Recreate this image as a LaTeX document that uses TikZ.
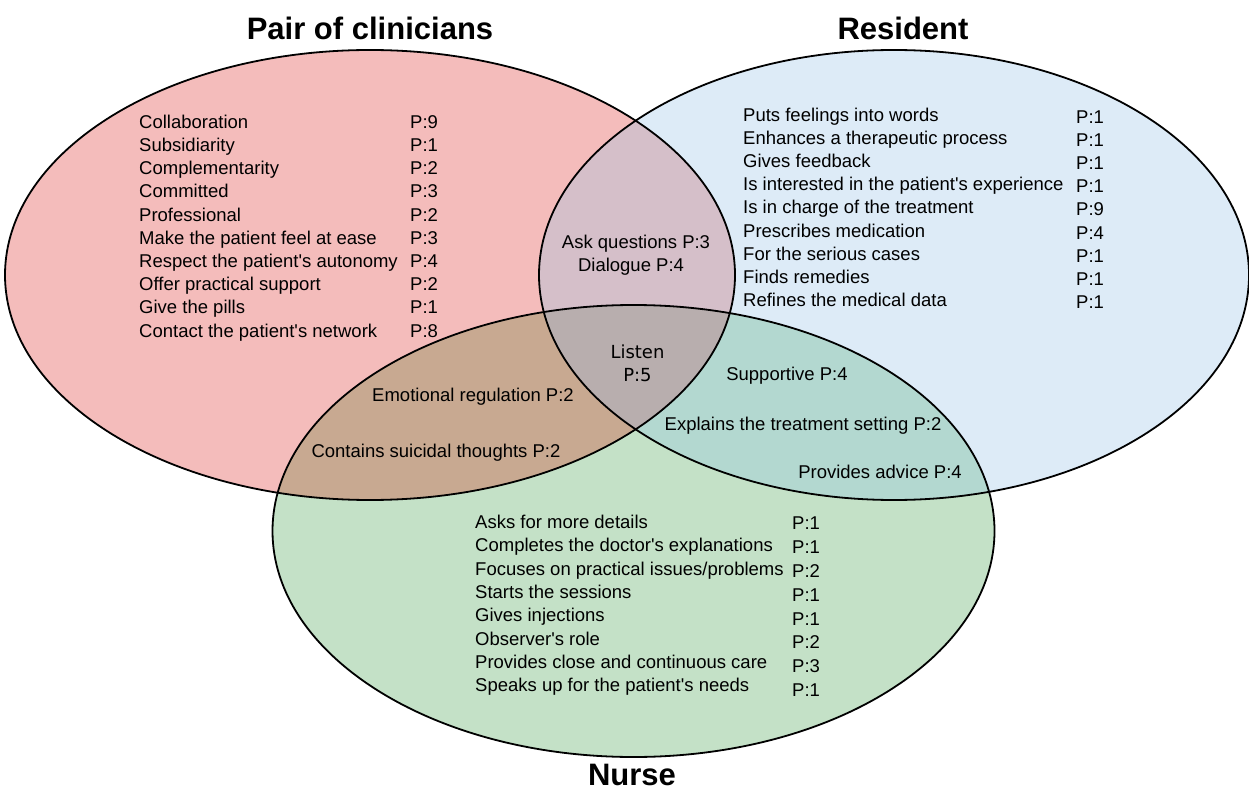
\documentclass[tikz,border=0pt]{standalone}
\usepackage{fontspec}
\setmainfont{Liberation Sans}[Ligatures=TeXOff]
\newfontfamily\dejavu{DejaVu Sans}
\definecolor{redF}{HTML}{F4BCBB}
\definecolor{blueF}{HTML}{DDEBF7}
\definecolor{greenF}{HTML}{C4E1C7}
\definecolor{rbF}{HTML}{D5BFC9}
\definecolor{rgF}{HTML}{C8A991}
\definecolor{bgF}{HTML}{B3D8D0}
\definecolor{allF}{HTML}{B8AEAE}
\def\redE{(370,275) ellipse [x radius=365pt, y radius=225pt]}
\def\blueE{(894,275) ellipse [x radius=355pt, y radius=225pt]}
\def\greenE{(633.5,531) ellipse [x radius=361pt, y radius=226pt]}
\tikzset{
  item/.style={anchor=base west, inner sep=0pt, font=\fontsize{18.5}{20}\selectfont},
  mid/.style={anchor=base, inner sep=0pt, font=\fontsize{18.5}{20}\selectfont},
  lst/.style={anchor=base, inner sep=0pt, font=\dejavu\fontsize{18}{20}\selectfont},
  title/.style={anchor=center, inner sep=0pt, font=\fontsize{31}{34}\selectfont\bfseries},
  outline/.style={draw=black, line width=1.8pt}
}
\begin{document}
\begin{tikzpicture}[x=1pt,y=-1pt]
\useasboundingbox (0,0) rectangle (1249,791);
% fills
\fill[redF] \redE;
\fill[blueF] \blueE;
\fill[greenF] \greenE;
\begin{scope}\clip \redE; \fill[rbF] \blueE;\end{scope}
\begin{scope}\clip \redE; \fill[rgF] \greenE;\end{scope}
\begin{scope}\clip \blueE; \fill[bgF] \greenE;\end{scope}
\begin{scope}\clip \redE; \clip \blueE; \fill[allF] \greenE;\end{scope}
% outlines
\draw[outline] \redE;
\draw[outline] \blueE;
\draw[outline] \greenE;
% titles
\node[title] (tpair) at (370,28) {Pair of clinicians};
\node[title] (tres) at (903,28) {Resident};
\node[title] (tnur) at (632,775) {Nurse};
% red list
\foreach \t/\p [count=\i from 0] in {Collaboration/9, Subsidiarity/1, Complementarity/2, Committed/3, Professional/2, Make the patient feel at ease/3, Respect the patient's autonomy/4, Offer practical support/2, Give the pills/1, Contact the patient's network/8}{
  \node[item] (r\i) at (139,{128.3+23.2*\i}) {\t};
  \node[item] (rp\i) at (410,{128.3+23.2*\i}) {P:\p};
}
% blue list
\foreach \t/\p [count=\i from 0] in {Puts feelings into words/1, Enhances a therapeutic process/1, Gives feedback/1, Is interested in the patient's experience/1, Is in charge of the treatment/9, Prescribes medication/4, For the serious cases/1, Finds remedies/1, Refines the medical data/1}{
  \node[item] (b\i) at (743,{121.6+23.1*\i}) {\t};
  \node[item] (bp\i) at (1076,{123.6+23.1*\i}) {P:\p};
}
% green list
\node[item] (g0) at (475,528.3) {Asks for more details};
\node[item] (g1) at (475,551.6) {Completes the doctor's explanations};
\node[item] (g2) at (475,575.0) {Focuses on practical issues/problems};
\node[item] (g3) at (475,598.3) {Starts the sessions};
\node[item] (g4) at (475,621.6) {Gives injections};
\node[item] (g5) at (475,645.0) {Observer's role};
\node[item] (g6) at (475,668.3) {Provides close and continuous care};
\node[item] (g7) at (475,691.6) {Speaks up for the patient's needs};
\node[item] (gp0) at (792,529.9) {P:1};
\node[item] (gp1) at (792,553.7) {P:1};
\node[item] (gp2) at (792,577.5) {P:2};
\node[item] (gp3) at (792,601.3) {P:1};
\node[item] (gp4) at (792,625.1) {P:1};
\node[item] (gp5) at (792,648.9) {P:2};
\node[item] (gp6) at (792,672.7) {P:3};
\node[item] (gp7) at (792,696.5) {P:1};
% overlaps
\node[mid] (ask) at (636,248.6) {Ask questions P:3};
\node[mid] (dia) at (631,271.6) {Dialogue P:4};
\node[lst] (lis) at (637.5,358.5) {Listen};
\node[lst] (lisp) at (637.5,381.5) {P:5};
\node[mid] (sup) at (787,380.6) {Supportive P:4};
\node[mid] (emo) at (473,401.6) {Emotional regulation P:2};
\node[mid] (exp) at (803,430.6) {Explains the treatment setting P:2};
\node[mid] (con) at (436,457.6) {Contains suicidal thoughts P:2};
\node[mid] (adv) at (880,478.6) {Provides advice P:4};
\end{tikzpicture}
\end{document}
